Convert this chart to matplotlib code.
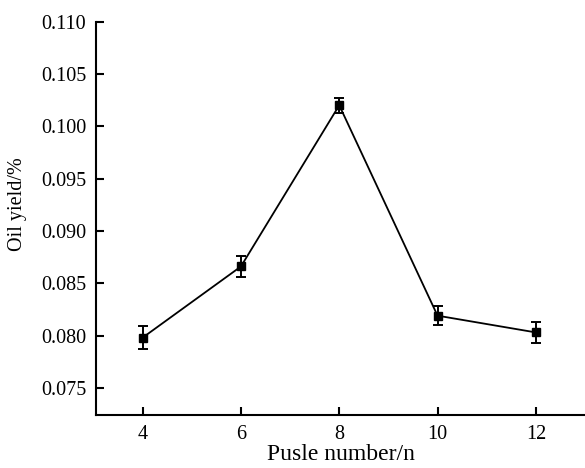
import matplotlib
matplotlib.use("Agg")
import matplotlib.pyplot as plt

# pulse number vs oil yield
pulse_number = [4, 6, 8, 10, 12]
oil_yield = [0.0798, 0.0866, 0.1020, 0.0819, 0.0803]
yield_err = [0.0011, 0.0010, 0.0007, 0.0009, 0.0010]

x_ticks = [4, 6, 8, 10, 12]
y_ticks = [0.075, 0.080, 0.085, 0.090, 0.095, 0.100, 0.105, 0.110]

plt.rcParams["font.family"] = ["Liberation Serif", "DejaVu Serif"]
plt.rcParams["font.size"] = 14

fig = plt.figure(figsize=(5.85, 4.68), dpi=100)
ax = fig.add_axes([0.164, 0.113, 0.836, 0.841])

# line with square markers and error bars
ax.errorbar(
    pulse_number,
    oil_yield,
    yerr=yield_err,
    color="black",
    marker="s",
    markersize=5.5,
    linewidth=1.3,
    elinewidth=1.4,
    capsize=3.5,
    capthick=1.4,
)

ax.set_xlim(3.05, 13.0)
ax.set_ylim(0.0724, 0.110)
ax.set_xticks(x_ticks)
ax.set_yticks(y_ticks)
ax.set_yticklabels([f"{v:.3f}" for v in y_ticks])

ax.spines["top"].set_visible(False)
ax.spines["right"].set_visible(False)
ax.spines["left"].set_linewidth(1.5)
ax.spines["bottom"].set_linewidth(1.5)
ax.tick_params(direction="in", length=6, width=1.5, labelsize=14.5, pad=7)

ax.set_xlabel("Pusle number/n", fontsize=17)
ax.set_ylabel("Oil yield/%", fontsize=14.5)
ax.yaxis.set_label_coords(-0.141, 0.535)
ax.xaxis.set_label_coords(0.5, -0.073)

fig.savefig("out.png", dpi=100)
